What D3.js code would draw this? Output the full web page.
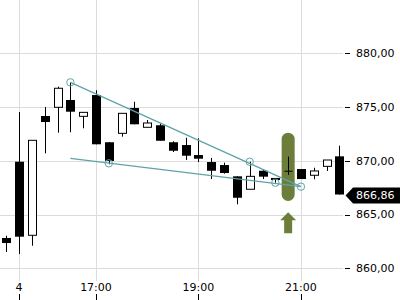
<!DOCTYPE html>
<html>
<head>
<meta charset="utf-8">
<script src="https://cdn.jsdelivr.net/npm/d3@7"></script>
<style>
  body { margin: 0; background: #fff; }
  svg { display: block; font-family: "DejaVu Sans", sans-serif; }
</style>
</head>
<body>
<svg id="chart" width="400" height="300"></svg>
<script>
// 15 minute candles, day 4, from 15:15 to 21:45
var times  = ["15:15","15:30","15:45","16:00","16:15","16:30","16:45","17:00","17:15",
              "17:30","17:45","18:00","18:15","18:30","18:45","19:00","19:15","19:30",
              "19:45","20:00","20:15","20:30","20:45","21:00","21:15","21:30","21:45"];
var opens  = [862.82,869.91,863.07,874.16,874.97,875.65,874.13,876.11,871.72,872.55,874.90,873.11,873.30,871.72,
              871.46,870.53,869.88,869.60,868.55,867.35,869.07,868.40,869.07,869.23,868.65,869.48,870.41];
var highs  = [863.03,874.53,871.90,875.00,876.89,877.29,874.50,876.55,871.72,874.41,875.49,873.79,873.48,871.81,
              872.14,872.09,870.26,869.82,868.55,869.91,869.17,868.40,870.38,869.23,869.35,870.07,871.40];
var lows   = [861.52,861.33,862.10,870.69,872.61,872.65,873.02,871.53,869.67,872.24,873.39,873.11,871.86,870.81,
              870.07,869.88,868.30,868.80,865.95,867.35,868.30,867.96,868.68,868.30,868.28,869.05,866.86];
var closes = [862.35,862.94,871.90,873.60,876.74,874.56,874.50,871.53,869.98,874.41,873.39,873.51,871.86,870.93,
              870.47,870.19,869.07,868.86,866.56,868.55,868.52,868.21,869.07,868.30,869.05,870.07,866.86];

// price ticks and time ticks
var priceTicks = [860, 865, 870, 875, 880];
var timeTicks  = ["15:30","17:00","19:00","21:00"];
var timeLabels = ["4","17:00","19:00","21:00"];

// wedge pattern: trend lines [start time, start price, end time, end price]
var upperLine = ["16:30", 877.29, "21:00", 867.59];
var lowerLine = ["16:30", 870.23, "21:00", 867.59];
var touchTimes  = ["16:30","17:15","20:00","20:30","21:00"];
var touchPrices = [877.29, 869.76, 869.91, 867.96, 867.59];

// breakout signal
var signalTime = "20:45";
var signalBand = [872.61, 866.26];
var arrowRange = [865.2, 863.25];

var width = 400, height = 300;
var plotRight = 343, plotBottom = 281;

var parse = function (s) {
    var p = s.split(":");
    return new Date(2024, 0, 4, +p[0], +p[1]);
};

var candles = times.map(function (t, i) {
    return { date: parse(t), o: opens[i], h: highs[i], l: lows[i], c: closes[i] };
});

var x = d3.scaleTime()
    .domain([parse("15:15"), parse("21:45")])
    .range([6.3, 339.4]);

var y = d3.scaleLinear()
    .domain([860, 880])
    .range([268.3, 53.2]);

var fmt = d3.formatLocale({ decimal: ",", thousands: ".", grouping: [3], currency: ["", ""] }).format(".2f");

var svg = d3.select("#chart");

// grid
var grid = svg.append("g").attr("stroke", "#dcdcdc").attr("stroke-width", 1);
grid.selectAll(".hg").data(priceTicks).enter().append("line")
    .attr("x1", 0).attr("x2", plotRight)
    .attr("y1", function (d) { return Math.round(y(d)) + 0.5; })
    .attr("y2", function (d) { return Math.round(y(d)) + 0.5; });
grid.selectAll(".vg").data(timeTicks).enter().append("line")
    .attr("y1", 0).attr("y2", plotBottom)
    .attr("x1", function (d) { return Math.round(x(parse(d))) + 0.5; })
    .attr("x2", function (d) { return Math.round(x(parse(d))) + 0.5; });

// price axis
var yAxis = svg.append("g");
yAxis.selectAll("line").data(priceTicks).enter().append("line")
    .attr("x1", 345).attr("x2", 350)
    .attr("y1", function (d) { return Math.round(y(d)) + 0.5; })
    .attr("y2", function (d) { return Math.round(y(d)) + 0.5; })
    .attr("stroke", "#000");
yAxis.selectAll("text").data(priceTicks).enter().append("text")
    .attr("x", 356)
    .attr("y", function (d) { return y(d); })
    .attr("dy", "0.36em")
    .attr("font-size", 11)
    .attr("fill", "#000")
    .text(function (d) { return fmt(d); });

// time axis
var xAxis = svg.append("g");
xAxis.selectAll("text").data(timeTicks).enter().append("text")
    .attr("x", function (d) { return x(parse(d)); })
    .attr("y", 291)
    .attr("text-anchor", "middle")
    .attr("font-size", 11)
    .attr("fill", "#000")
    .text(function (d, i) { return timeLabels[i]; });
xAxis.selectAll("line").data(timeTicks).enter().append("line")
    .attr("x1", function (d) { return Math.round(x(parse(d))) + 0.5; })
    .attr("x2", function (d) { return Math.round(x(parse(d))) + 0.5; })
    .attr("y1", 294).attr("y2", 300)
    .attr("stroke", "#000");

// signal band behind the candle
var sx = x(parse(signalTime));
svg.append("rect")
    .attr("x", sx - 6.5).attr("width", 13)
    .attr("y", y(signalBand[0]))
    .attr("height", y(signalBand[1]) - y(signalBand[0]))
    .attr("rx", 6.5)
    .attr("fill", "#6c7e3a");

// up arrow
var at = y(arrowRange[0]), ab = y(arrowRange[1]);
svg.append("path")
    .attr("d", d3.line()([
        [sx, at], [sx + 8, at + 8], [sx + 4, at + 8], [sx + 4, ab],
        [sx - 4, ab], [sx - 4, at + 8], [sx - 8, at + 8]
    ]) + "Z")
    .attr("fill", "#6c7e3a");

// candles
var bw = 9;
var cg = svg.append("g").selectAll("g").data(candles).enter().append("g");
cg.append("line")
    .attr("x1", function (d) { return Math.round(x(d.date)) + 0.5; })
    .attr("x2", function (d) { return Math.round(x(d.date)) + 0.5; })
    .attr("y1", function (d) { return y(d.h); })
    .attr("y2", function (d) { return y(d.l); })
    .attr("stroke", "#000");
cg.append("rect")
    .attr("x", function (d) {
        var cx = Math.round(x(d.date)) + 0.5;
        return d.c >= d.o ? cx - bw / 2 + 0.5 : cx - bw / 2;
    })
    .attr("width", function (d) { return d.c >= d.o ? bw - 1 : bw; })
    .attr("y", function (d) { return y(Math.max(d.o, d.c)); })
    .attr("height", function (d) { return Math.max(1, Math.abs(y(d.o) - y(d.c))); })
    .attr("fill", function (d) { return d.c > d.o ? "#fff" : "#000"; })
    .attr("stroke", function (d) { return d.c > d.o ? "#000" : "none"; });

// wedge trend lines
var teal = "#5fa3a8";
[upperLine, lowerLine].forEach(function (l) {
    svg.append("line")
        .attr("x1", x(parse(l[0]))).attr("y1", y(l[1]))
        .attr("x2", x(parse(l[2]))).attr("y2", y(l[3]))
        .attr("stroke", teal).attr("stroke-width", 1.3);
});
svg.selectAll(".touch").data(touchTimes).enter().append("circle")
    .attr("cx", function (d) { return x(parse(d)); })
    .attr("cy", function (d, i) { return y(touchPrices[i]); })
    .attr("r", 3.7)
    .attr("fill", "none")
    .attr("stroke", teal).attr("stroke-width", 1);

// last price tag
var last = candles[candles.length - 1].c;
var ly = y(last) + 1;
svg.append("path")
    .attr("d", d3.line()([[345.5, ly], [353, ly - 8], [400, ly - 8], [400, ly + 8], [353, ly + 8]]) + "Z")
    .attr("fill", "#000");
svg.append("text")
    .attr("x", 356).attr("y", ly)
    .attr("dy", "0.36em")
    .attr("font-size", 11)
    .attr("fill", "#fff")
    .text(fmt(last));
</script>
</body>
</html>
